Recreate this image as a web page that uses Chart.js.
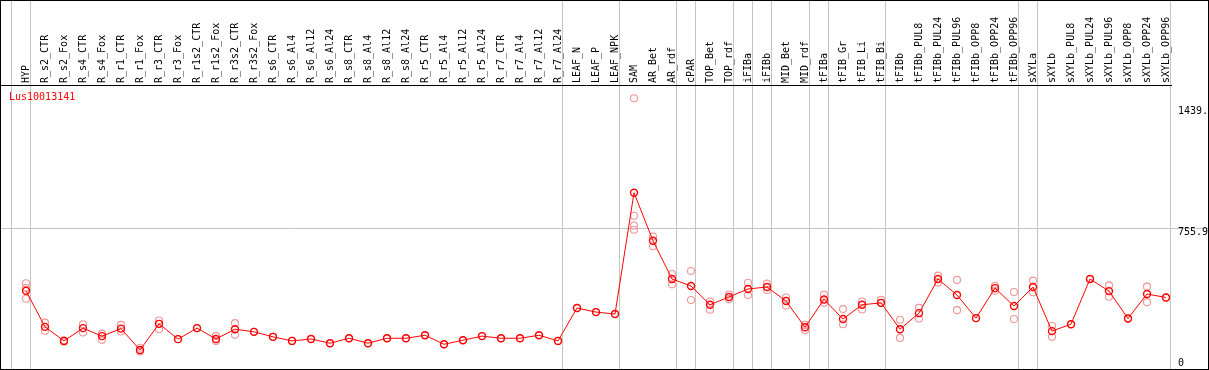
<!DOCTYPE html>
<html>
<head>
<meta charset="utf-8">
<script src="https://cdn.jsdelivr.net/npm/chart.js@4/dist/chart.umd.min.js"></script>
<style>
  html, body { margin: 0; padding: 0; background: #fff; }
  #frame { width: 1209px; height: 370px; border: 1px solid #000; box-sizing: border-box; }
  canvas { display: block; }
</style>
</head>
<body>
<div id="frame"><canvas id="chart" width="1207" height="368"></canvas></div>
<script>
// categories along the x axis
const categories = [
  'HYP', 'R_s2_CTR', 'R_s2_Fox', 'R_s4_CTR', 'R_s4_Fox', 'R_r1_CTR', 'R_r1_Fox', 'R_r3_CTR', 'R_r3_Fox',
  'R_r1s2_CTR', 'R_r1s2_Fox', 'R_r3s2_CTR', 'R_r3s2_Fox', 'R_s6_CTR', 'R_s6_Al4', 'R_s6_Al12', 'R_s6_Al24',
  'R_s8_CTR', 'R_s8_Al4', 'R_s8_Al12', 'R_s8_Al24', 'R_r5_CTR', 'R_r5_Al4', 'R_r5_Al12', 'R_r5_Al24',
  'R_r7_CTR', 'R_r7_Al4', 'R_r7_Al12', 'R_r7_Al24', 'LEAF_N', 'LEAF_P', 'LEAF_NPK', 'SAM', 'AR_Bet', 'AR_rdf',
  'cPAR', 'TOP_Bet', 'TOP_rdf', 'iFIBa', 'iFIBb', 'MID_Bet', 'MID_rdf', 'tFIBa', 'tFIB_Gr', 'tFIB_Li', 'tFIB_Bi',
  'tFIBb', 'tFIBb_PUL8', 'tFIBb_PUL24', 'tFIBb_PUL96', 'tFIBb_OPP8', 'tFIBb_OPP24', 'tFIBb_OPP96',
  'sXYLa', 'sXYLb', 'sXYLb_PUL8', 'sXYLb_PUL24', 'sXYLb_PUL96', 'sXYLb_OPP8', 'sXYLb_OPP24', 'sXYLb_OPP96'
];

// index of the first category of each group (vertical separators)
const groupStarts = [0, 1, 29, 32, 35, 36, 38, 39, 40, 42, 43, 46, 53, 54, 61];

// mean expression per category
const meanValues = [
  406, 203, 124, 196, 151, 193, 73, 220, 134,
  196, 135, 190, 175, 147, 124, 135, 111,
  139, 111, 139, 139, 156, 105, 128, 151,
  139, 139, 156, 124, 309, 286, 275, 957, 687, 472,
  433, 327, 371, 416, 427, 348, 201, 357, 247, 327, 338,
  190, 280, 472, 382, 252, 421, 320,
  427, 179, 218, 472, 404, 250, 388, 368
];

// replicate values per category
const replicateValues = [
  [448, 423, 361], [227, 181], [128, 120], [218, 171], [165, 130], [214, 177], [86, 64], [239, 190], [134],
  [196], [151, 124], [224, 158], [175], [147], [124], [135], [111],
  [139], [111], [139], [139], [156], [105], [128], [151],
  [139], [139], [156], [124], [309], [286], [275], [1488, 828, 773, 749], [711, 656], [500, 442],
  [517, 354], [346, 299], [385, 359], [451, 382], [446, 410], [368, 323], [214, 184], [385, 338], [303, 218], [346, 301], [355, 338],
  [243, 141], [310, 250], [491, 453], [467, 297], [252], [434, 406], [399, 247],
  [463, 397], [209, 147], [218], [472], [436, 372], [250], [429, 342], [368]
];

const yTicks = [0, 755.9, 1439.0];
const seriesName = 'Lus10013141';

const FONT = 'DejaVu Sans Mono';
const SEP_OFFSET = 14.5 / 19;

const meanPoints = meanValues.map((v, i) => ({ x: i, y: v }));
const repPoints = [];
replicateValues.forEach((reps, i) => reps.forEach(v => repPoints.push({ x: i, y: v })));

const nameLabel = {
  id: 'nameLabel',
  afterDraw(chart) {
    const { ctx, chartArea } = chart;
    ctx.save();
    ctx.font = '10px "' + FONT + '"';
    ctx.fillStyle = '#ff0000';
    ctx.textBaseline = 'alphabetic';
    ctx.fillText(seriesName, chartArea.left + 8, chartArea.top + 15);
    ctx.restore();
  }
};

// keep the plot area flush with the frame
const noPad = (scale) => {
  scale.paddingLeft = 0;
  scale.paddingRight = 0;
  scale.paddingTop = 0;
  scale.paddingBottom = 0;
};

new Chart(document.getElementById('chart'), {
  type: 'line',
  data: {
    datasets: [
      {
        data: meanPoints,
        borderColor: '#ff0000',
        borderWidth: 1,
        pointRadius: 3.5,
        pointBorderWidth: 1.4,
        pointBorderColor: '#ff0000',
        pointBackgroundColor: 'rgba(0,0,0,0)',
        tension: 0
      },
      {
        data: repPoints,
        showLine: false,
        pointRadius: 3.5,
        pointBorderWidth: 1.1,
        pointBorderColor: '#ef9696',
        pointBackgroundColor: 'rgba(0,0,0,0)'
      }
    ]
  },
  options: {
    responsive: false,
    animation: false,
    devicePixelRatio: 1,
    layout: { padding: 0, autoPadding: false },
    plugins: { legend: { display: false }, tooltip: { enabled: false } },
    scales: {
      x: {
        type: 'linear',
        position: 'top',
        min: -25 / 19,
        max: (1170 - 25) / 19,
        afterBuildTicks: (scale) => {
          const ticks = categories.map((c, i) => ({ value: i }))
            .concat(groupStarts.map(k => ({ value: k - SEP_OFFSET })));
          ticks.sort((a, b) => a.value - b.value);
          scale.ticks = ticks;
        },
        afterFit: (scale) => { scale.height = 84; noPad(scale); },
        grid: {
          color: (ctx) => (ctx.tick && Number.isInteger(ctx.tick.value)) ? 'rgba(0,0,0,0)' : '#c4c4c4',
          lineWidth: 1,
          drawTicks: true,
          tickLength: 84
        },
        border: { display: true, color: '#000', width: 1 },
        ticks: {
          autoSkip: false,
          minRotation: 90,
          maxRotation: 90,
          padding: -82,
          labelOffset: 12,
          color: '#000',
          font: { family: FONT, size: 10 },
          callback: (value) => Number.isInteger(value) ? categories[value] : ''
        }
      },
      y: {
        type: 'linear',
        position: 'right',
        min: -33.85,
        max: 1562.6,
        afterBuildTicks: (scale) => { scale.ticks = yTicks.map(v => ({ value: v })); },
        afterFit: (scale) => { scale.width = 37; noPad(scale); },
        grid: {
          color: (ctx) => (ctx.tick && ctx.tick.value === 755.9) ? '#c4c4c4' : 'rgba(0,0,0,0)',
          drawTicks: true,
          tickLength: 37
        },
        border: { display: false },
        ticks: {
          padding: -30,
          color: '#000',
          font: { family: FONT, size: 10, lineHeight: '8px' },
          callback: (value) => value === 0 ? '0' : ['', value.toFixed(1)]
        }
      }
    }
  },
  plugins: [nameLabel]
});
</script>
</body>
</html>
